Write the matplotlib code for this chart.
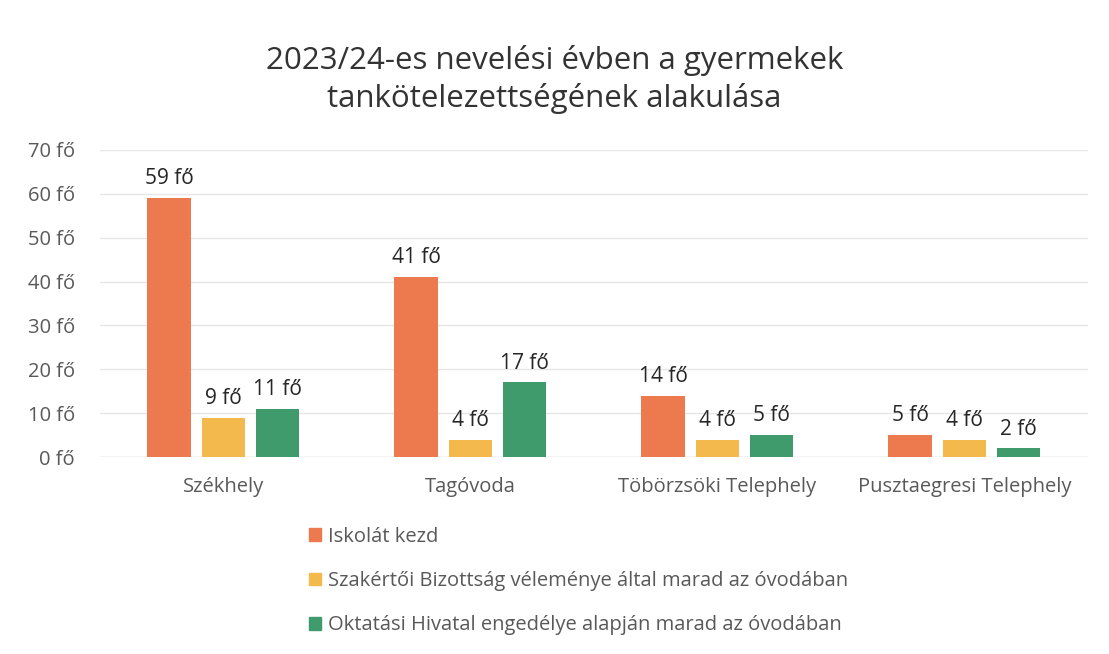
import numpy as np
import matplotlib.pyplot as plt
from matplotlib.patches import Patch

plt.rcParams['font.family'] = ['Open Sans', 'DejaVu Sans']

# --- adatok ---
categories = ['Székhely', 'Tagóvoda', 'Töbörzsöki Telephely', 'Pusztaegresi Telephely']
series_names = ['Iskolát kezd',
                'Szakértői Bizottság véleménye által marad az óvodában',
                'Oktatási Hivatal engedélye alapján marad az óvodában']
iskolat_kezd = [59, 41, 14, 5]
szakertoi = [9, 4, 4, 4]
oktatasi = [11, 17, 5, 2]
y_ticks = [0, 10, 20, 30, 40, 50, 60, 70]

colors = ['#EC7A4E', '#F3B94C', '#3F9B6B']
values = [iskolat_kezd, szakertoi, oktatasi]

fig = plt.figure(figsize=(11.09, 6.54), dpi=100)
ax = fig.add_axes([0.09, 0.301, 0.891, 0.47])

x = np.arange(len(categories))
width = 0.175
offsets = [-0.22, 0, 0.22]

for vals, off, col in zip(values, offsets, colors):
    bars = ax.bar(x + off, vals, width, color=col, zorder=3)
    for b, v in zip(bars, vals):
        ax.text(b.get_x() + b.get_width() / 2, v + 2.0, f'{v} fő',
                ha='center', va='bottom', fontsize=15, color='#262626')

ax.set_xlim(-0.5, len(categories) - 0.5)
ax.set_ylim(0, 70)
ax.set_yticks(y_ticks)
ax.set_yticklabels([f'{t} fő' for t in y_ticks])
ax.set_xticks(x)
ax.set_xticklabels(categories)
ax.tick_params(axis='both', length=0, labelsize=14.5, colors='#595959')
ax.tick_params(axis='y', pad=18)
ax.tick_params(axis='x', pad=14)
ax.grid(axis='y', color='#E6E6E6', linewidth=1, zorder=0)
for s in ax.spines.values():
    s.set_visible(False)
ax.axhline(0, color='#D9D9D9', linewidth=1, zorder=2)

fig.text(0.5, 0.878, '2023/24-es nevelési évben a gyermekek\ntankötelezettségének alakulása',
         ha='center', va='center', fontsize=22.5, color='#333333', linespacing=1.3)

handles = [Patch(color=c) for c in colors]
fig.legend(handles, series_names, loc='upper left', bbox_to_anchor=(0.262, 0.222),
           frameon=False, fontsize=14.5, labelcolor='#595959', handlelength=0.6,
           handleheight=0.6, handletextpad=0.35, labelspacing=1.2)

fig.savefig('out.png', dpi=100)
